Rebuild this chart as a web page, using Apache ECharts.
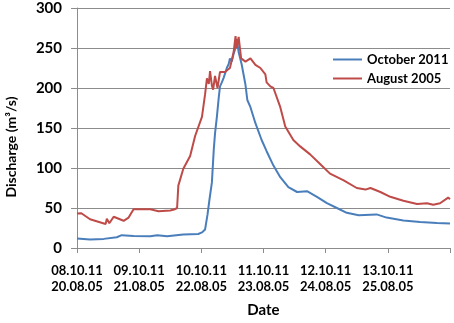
<!DOCTYPE html>
<html>
<head>
<meta charset="utf-8">
<script src="https://cdn.jsdelivr.net/npm/echarts@6/dist/echarts.min.js"></script>
<style>html,body{margin:0;padding:0;background:#fff}#c{width:454px;height:323px}</style>
</head>
<body>
<div id="c"></div>
<script>
// Tick labels (one per day)
var datesOct2011 = ['08.10.11','09.10.11','10.10.11','11.10.11','12.10.11','13.10.11'];
var datesAug2005 = ['20.08.05','21.08.05','22.08.05','23.08.05','24.08.05','25.08.05'];

// October 2011 (days since first tick, discharge m3/s)
var octDays   = [0, 0.21, 0.43, 0.64, 0.72, 0.91, 1.18, 1.29, 1.45, 1.71, 1.95, 2.01, 2.06, 2.10, 2.13, 2.17, 2.20, 2.22, 2.25, 2.28, 2.30, 2.33, 2.36, 2.41, 2.44, 2.46, 2.49, 2.52, 2.55, 2.57, 2.60, 2.65, 2.71, 2.74, 2.79, 2.87, 2.97, 3.05, 3.16, 3.27, 3.40, 3.54, 3.70, 3.86, 4.02, 4.18, 4.34, 4.53, 4.82, 4.98, 5.25, 5.52, 5.79, 6.0];
var octValues = [12, 10.5, 11.4, 13.4, 16, 15, 14.6, 16, 14.6, 17, 17.5, 19.5, 23, 42, 60, 82, 123, 143, 164, 188, 202, 207, 213, 225, 230, 237, 233, 243, 250, 261, 245, 229, 204, 185, 176, 156, 135, 121, 103, 88.5, 76, 70, 71, 64, 56, 50, 44, 41, 42, 38, 34.5, 32.4, 31.2, 30.5];

// August 2005
var augDays   = [0, 0.07, 0.21, 0.46, 0.48, 0.52, 0.59, 0.75, 0.83, 0.91, 1.18, 1.31, 1.50, 1.56, 1.61, 1.63, 1.71, 1.82, 1.90, 2.01, 2.06, 2.09, 2.12, 2.14, 2.17, 2.19, 2.22, 2.26, 2.30, 2.38, 2.46, 2.52, 2.55, 2.57, 2.60, 2.64, 2.71, 2.79, 2.87, 2.95, 3.03, 3.05, 3.11, 3.16, 3.27, 3.35, 3.48, 3.59, 3.75, 3.91, 4.07, 4.29, 4.50, 4.64, 4.72, 4.88, 5.04, 5.25, 5.47, 5.63, 5.73, 5.84, 5.97, 6.0];
var augValues = [43, 43.5, 36, 30, 36.5, 31, 39, 34, 38, 48.5, 48.5, 46, 47, 48, 50, 78, 99, 115, 140, 164, 192, 212, 205, 221, 203, 198, 215, 200, 220, 220, 225, 245, 265, 250, 264, 237, 233, 237, 229, 225, 217, 207, 202, 200, 176, 152, 135, 127, 117, 105, 93, 84.5, 75, 73, 75, 70, 64, 59, 55, 56, 54, 56, 63, 61];

function zip(xs, ys) { return xs.map(function (x, i) { return [x, ys[i]]; }); }

var font = 'Lato';
var chart = echarts.init(document.getElementById('c'), null, {renderer: 'canvas'});
chart.setOption({
  animation: false,
  backgroundColor: '#fff',
  grid: {left: 77, right: 4, top: 8, bottom: 69, containLabel: false},
  legend: {
    orient: 'vertical', left: 328, top: 48, itemWidth: 29, itemHeight: 2, itemGap: 6,
    icon: 'rect',
    textStyle: {fontFamily: font, fontWeight: 'bold', fontSize: 13, color: '#000'},
    data: ['October 2011', 'August 2005']
  },
  xAxis: {
    type: 'value', min: 0, max: 6, interval: 1,
    name: 'Date', nameLocation: 'middle', nameGap: 55,
    nameTextStyle: {fontFamily: font, fontWeight: 'bold', fontSize: 15, color: '#000'},
    axisLine: {show: true, lineStyle: {color: '#8c8c8c', width: 1}},
    axisTick: {show: true, length: 5, lineStyle: {color: '#8c8c8c'}},
    splitLine: {show: false},
    axisLabel: {
      margin: 15, lineHeight: 16, fontFamily: font, fontWeight: 'bold', fontSize: 13, color: '#000',
      formatter: function (v) { var i = Math.round(v); return i < datesOct2011.length ? datesOct2011[i] + '\n' + datesAug2005[i] : ''; }
    }
  },
  yAxis: {
    type: 'value', min: 0, max: 300, interval: 50,
    axisLine: {show: true, lineStyle: {color: '#8c8c8c', width: 1}},
    axisTick: {show: true, length: 6, lineStyle: {color: '#8c8c8c'}},
    splitLine: {show: true, lineStyle: {color: '#8c8c8c', width: 1}},
    axisLabel: {margin: 15, fontFamily: font, fontWeight: 'bold', fontSize: 15, color: '#000'}
  },
  graphic: [{
    type: 'text', rotation: Math.PI / 2,
    x: 11, y: 147,
    style: {text: 'Discharge (m³/s)', fontFamily: font, fontWeight: 'bold', fontSize: 14, fill: '#000', align: 'center', verticalAlign: 'middle'}
  }],
  series: [
    {name: 'October 2011', type: 'line', symbol: 'none', data: zip(octDays, octValues),
     lineStyle: {color: '#4a7ebb', width: 2}, itemStyle: {color: '#4a7ebb'}},
    {name: 'August 2005', type: 'line', symbol: 'none', data: zip(augDays, augValues),
     lineStyle: {color: '#be4b48', width: 2}, itemStyle: {color: '#be4b48'}}
  ]
});
</script>
</body>
</html>
